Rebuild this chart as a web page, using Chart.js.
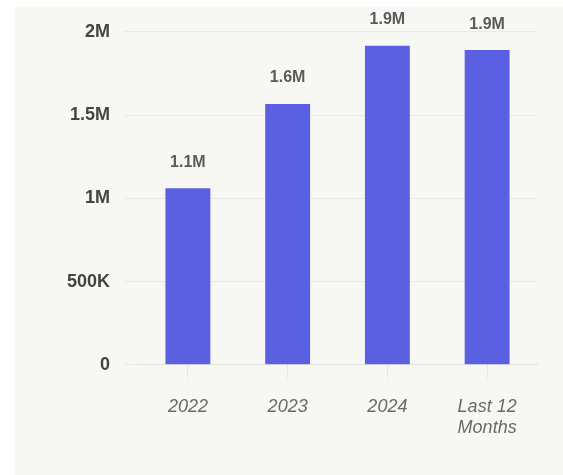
<!DOCTYPE html>
<html>
<head>
<meta charset="utf-8">
<script src="https://cdn.jsdelivr.net/npm/chart.js@4"></script>
<style>
  html, body { margin: 0; padding: 0; background: #ffffff; }
  #panel {
    position: absolute; left: 15px; top: 7px;
    width: 548px; height: 468px;
    background: #f7f7f4;
  }
</style>
</head>
<body>
<div id="panel"><canvas id="chart" width="548" height="468"></canvas></div>
<script>
const labels = ["2022", "2023", "2024", ["Last 12", "Months"]];
const values = [1060000, 1566000, 1916000, 1890000];
const yTicks = [0, 500000, 1000000, 1500000, 2000000];

function fmt(v) {
  if (v >= 1000000) return (v / 1000000).toFixed(1).replace(/\.0$/, "") + "M";
  if (v >= 1000) return (v / 1000) + "K";
  return String(v);
}

// labels above bars
const barLabels = {
  id: "barLabels",
  afterDatasetsDraw(chart) {
    const ctx = chart.ctx;
    const meta = chart.getDatasetMeta(0);
    ctx.save();
    ctx.font = "bold 16px 'Liberation Sans', Arial, sans-serif";
    ctx.fillStyle = "#5a5a5a";
    ctx.textAlign = "center";
    ctx.textBaseline = "middle";
    meta.data.forEach((bar, i) => {
      ctx.fillText((values[i] / 1000000).toFixed(1) + "M", bar.x, bar.y - 26);
    });
    ctx.restore();
  }
};

const ctx = document.getElementById("chart").getContext("2d");
const myChart = new Chart(ctx, {
  type: "bar",
  data: {
    labels: labels,
    datasets: [
      {
        data: values,
        backgroundColor: "#5b5fe2",
        barPercentage: 0.9,
        categoryPercentage: 0.5,
      },
    ],
  },
  options: {
    responsive: false,
    animation: false,
    layout: { padding: { top: 10, right: 26, bottom: 18, left: 38 } },
    plugins: { legend: { display: false }, tooltip: { enabled: false } },
    scales: {
      x: {
        grid: { offset: false, drawOnChartArea: false, drawTicks: true, tickLength: 13, color: "#e6e6e3" },
        border: { color: "#e2e2df" },
        ticks: {
          color: "#6a6a6a",
          padding: 18,
          font: { family: "'Liberation Sans', Arial, sans-serif", size: 18, style: "italic" },
        },
      },
      y: {
        min: 0,
        max: 2000000,
        afterBuildTicks: (axis) => { axis.ticks = yTicks.map((v) => ({ value: v })); },
        grid: { color: "#e9e9e6", tickLength: 14 },
        border: { display: false },
        ticks: {
          color: "#444444",
          padding: 14,
          font: { family: "'Liberation Sans', Arial, sans-serif", size: 18, weight: "bold" },
          callback: (v) => fmt(v),
        },
      },
    },
  },
  plugins: [barLabels],
});
</script>
</body>
</html>
